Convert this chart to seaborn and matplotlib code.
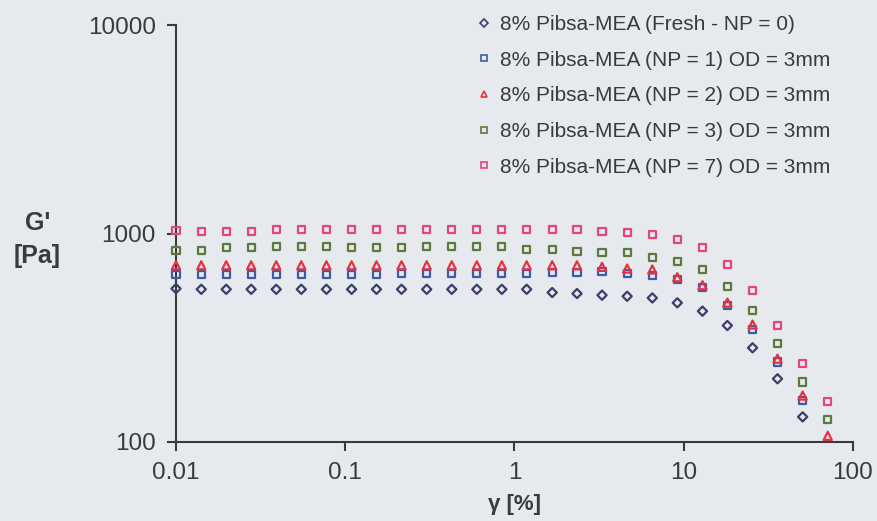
import numpy as np
import pandas as pd
import matplotlib
matplotlib.use("Agg")
import matplotlib.pyplot as plt
from matplotlib.lines import Line2D
import seaborn as sns

# Strain amplitude (%)
strain = [0.01, 0.0141, 0.0198, 0.0278, 0.0391, 0.055, 0.0774, 0.109, 0.153,
          0.215, 0.303, 0.426, 0.599, 0.842, 1.18, 1.67, 2.34, 3.29, 4.63,
          6.52, 9.16, 12.9, 18.1, 25.5, 35.8, 50.4, 70.9]

# Storage modulus G' (Pa) for each sample
g_fresh = [544, 540, 540, 540, 540, 540, 540, 540, 540, 540, 540, 540, 540,
           540, 540, 521, 515, 506, 500, 491, 465, 424, 362, 283, 201, 132,
           np.nan]
g_np1 = [636, 636, 636, 636, 636, 636, 636, 636, 636, 643, 643, 643, 643,
         643, 643, 650, 650, 659, 643, 626, 599, 549, 453, 346, 242, 158,
         np.nan]
g_np2 = [704, 704, 704, 704, 704, 704, 704, 704, 704, 704, 704, 704, 704,
         704, 704, 704, 704, 692, 679, 672, 617, 565, 466, 366, 251, 167, 107]
g_np3 = [831, 831, 857, 857, 863, 863, 863, 860, 860, 860, 863, 863, 863,
         863, 838, 838, 822, 810, 810, 771, 731, 669, 557, 426, 296, 194, 128]
g_np7 = [1030, 1019, 1019, 1019, 1045, 1045, 1045, 1045, 1045, 1045, 1045,
         1045, 1045, 1045, 1045, 1045, 1045, 1019, 1008, 989, 936, 854, 710,
         531, 362, 237, 156]

labels = ["8% Pibsa-MEA (Fresh - NP = 0)",
          "8% Pibsa-MEA (NP = 1) OD = 3mm",
          "8% Pibsa-MEA (NP = 2) OD = 3mm",
          "8% Pibsa-MEA (NP = 3) OD = 3mm",
          "8% Pibsa-MEA (NP = 7) OD = 3mm"]
series = [g_fresh, g_np1, g_np2, g_np3, g_np7]
colors = ["#3b3f6b", "#3f5ba6", "#e6323e", "#5b7a3c", "#e2467c"]
markers = ["D", "s", "^", "s", "s"]
sizes = [22, 26, 34, 26, 26]

bg = "#e6e9ee"
ink = "#3a3a3a"

sns.set_theme(style="ticks")
plt.rcParams["font.family"] = ["Liberation Sans", "DejaVu Sans"]

fig = plt.figure(figsize=(8.78, 5.21), dpi=100, facecolor=bg)
ax = fig.add_axes([176 / 878, 1 - 442 / 521, (853 - 176) / 878, (442 - 25) / 521])
ax.set_facecolor(bg)

for lab, vals, col, mk, sz in zip(labels, series, colors, markers, sizes):
    df = pd.DataFrame({"strain": strain, "G": vals}).dropna()
    sns.scatterplot(data=df, x="strain", y="G", ax=ax, marker=mk, s=sz,
                    facecolor="none", edgecolor=col, linewidth=1.6,
                    clip_on=False, zorder=3)

ax.set_xscale("log")
ax.set_yscale("log")
ax.set_xlim(0.01, 100)
ax.set_ylim(100, 10000)
ax.set_xticks([0.01, 0.1, 1, 10, 100])
ax.set_xticklabels(["0.01", "0.1", "1", "10", "100"])
ax.set_yticks([100, 1000, 10000])
ax.set_yticklabels(["100", "1000", "10000"])
ax.minorticks_off()

for side in ["top", "right"]:
    ax.spines[side].set_visible(False)
for side in ["left", "bottom"]:
    ax.spines[side].set_color(ink)
    ax.spines[side].set_linewidth(1.5)
ax.tick_params(axis="both", direction="out", length=6.5, width=1.5,
               color=ink, labelcolor=ink, labelsize=17.5, pad=8)

ax.set_xlabel("γ [%]", fontsize=16, fontweight="bold", color=ink)
ax.xaxis.set_label_coords(0.5, -0.151)
ax.xaxis.label.set_va("center")
ax.set_ylabel("G'\n[Pa]", fontsize=18, fontweight="bold", color=ink,
              rotation=0, ha="center", va="center", linespacing=1.45)
ax.yaxis.set_label_coords(-0.205, 0.485)

handles = [Line2D([], [], marker=mk, ls="", mfc="none", mec=col, mew=1.2,
                  ms=4.5 if mk != "D" else 3.8)
           for mk, col in zip(markers, colors)]
fig.legend(handles, labels, loc="upper left",
           bbox_to_anchor=(478 / 878, 1 - 15 / 521), frameon=False,
           borderaxespad=0, borderpad=0, handlelength=0.6,
           handletextpad=0.45, labelspacing=0.8, fontsize=15,
           labelcolor=ink)

fig.savefig("out.png", dpi=100, facecolor=bg)
